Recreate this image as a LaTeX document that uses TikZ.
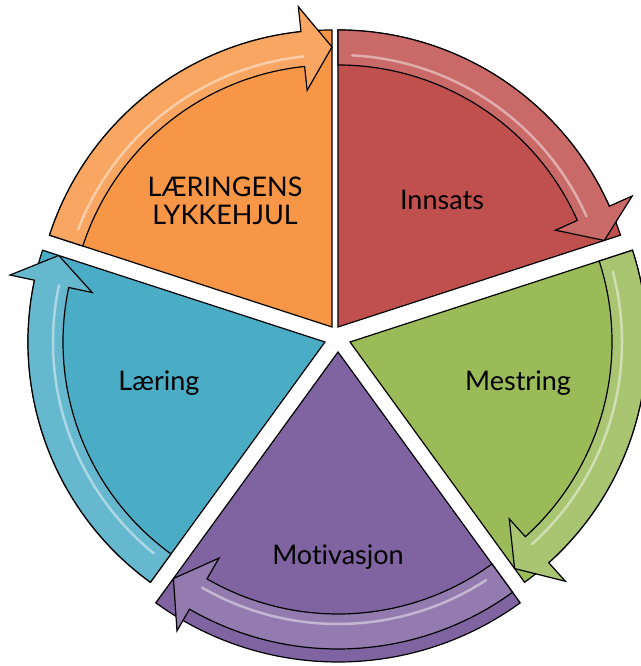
\documentclass[tikz,border=0pt]{standalone}
\usepackage{fontspec}
\setmainfont{Lato}[Ligatures={NoCommon}]
\definecolor{corange}{HTML}{F79646}
\definecolor{cred}{HTML}{C0504D}
\definecolor{cgreen}{HTML}{9BBB59}
\definecolor{cpurple}{HTML}{8064A2}
\definecolor{cblue}{HTML}{4BACC6}
\tikzset{
  wedgeshape/.style={draw=black, line width=1.2pt, line join=miter},
  bandshape/.style={draw=black, line width=1.2pt, line join=miter},
  glossline/.style={white, opacity=0.45, line width=2.5pt, line cap=round},
  lbl/.style={font=\fontsize{27}{28}\selectfont, text=black, align=center}
}
\newcommand\cyclepart[4]{%
  \begin{scope}[shift={#1}]
    \pgfmathsetmacro\cpE{#2-72}
    \pgfmathsetmacro\cpH{#2-66}
    \pgfmathsetmacro\cpG{#2-3}
    \filldraw[wedgeshape, fill=#3] (0,0) -- (#2:#4) arc[start angle=#2, end angle=\cpE, radius=#4] -- cycle;
    \filldraw[bandshape, fill=#3!85!white] (#2:297) arc[start angle=#2, end angle=\cpH, radius=297]
      -- (\cpH:322) -- (\cpE:280) -- (\cpH:238) -- (\cpH:262)
      arc[start angle=\cpH, end angle=#2, radius=262] -- cycle;
    \draw[glossline] (\cpG:272) arc[start angle=\cpG, end angle=\cpH, radius=272];
  \end{scope}}
\begin{document}
\begin{tikzpicture}[x=1pt, y=1pt]
  \useasboundingbox (0,0) rectangle (640,666);
  \cyclepart{(332,339)}{162}{corange}{297}
  \cyclepart{(338,339)}{90}{cred}{297}
  \cyclepart{(350,324)}{18}{cgreen}{297}
  \cyclepart{(338,314)}{-54}{cpurple}{310}
  \cyclepart{(325,324)}{-126}{cblue}{297}
  \node[lbl] (title) at (225,465) {LÆRINGENS\\LYKKEHJUL};
  \node[lbl] (innsats) at (442,466) {Innsats};
  \node[lbl] (mestring) at (518,283) {Mestring};
  \node[lbl] (motivasjon) at (338,109) {Motivasjon};
  \node[lbl] (laering) at (159,283) {Læring};
\end{tikzpicture}
\end{document}
